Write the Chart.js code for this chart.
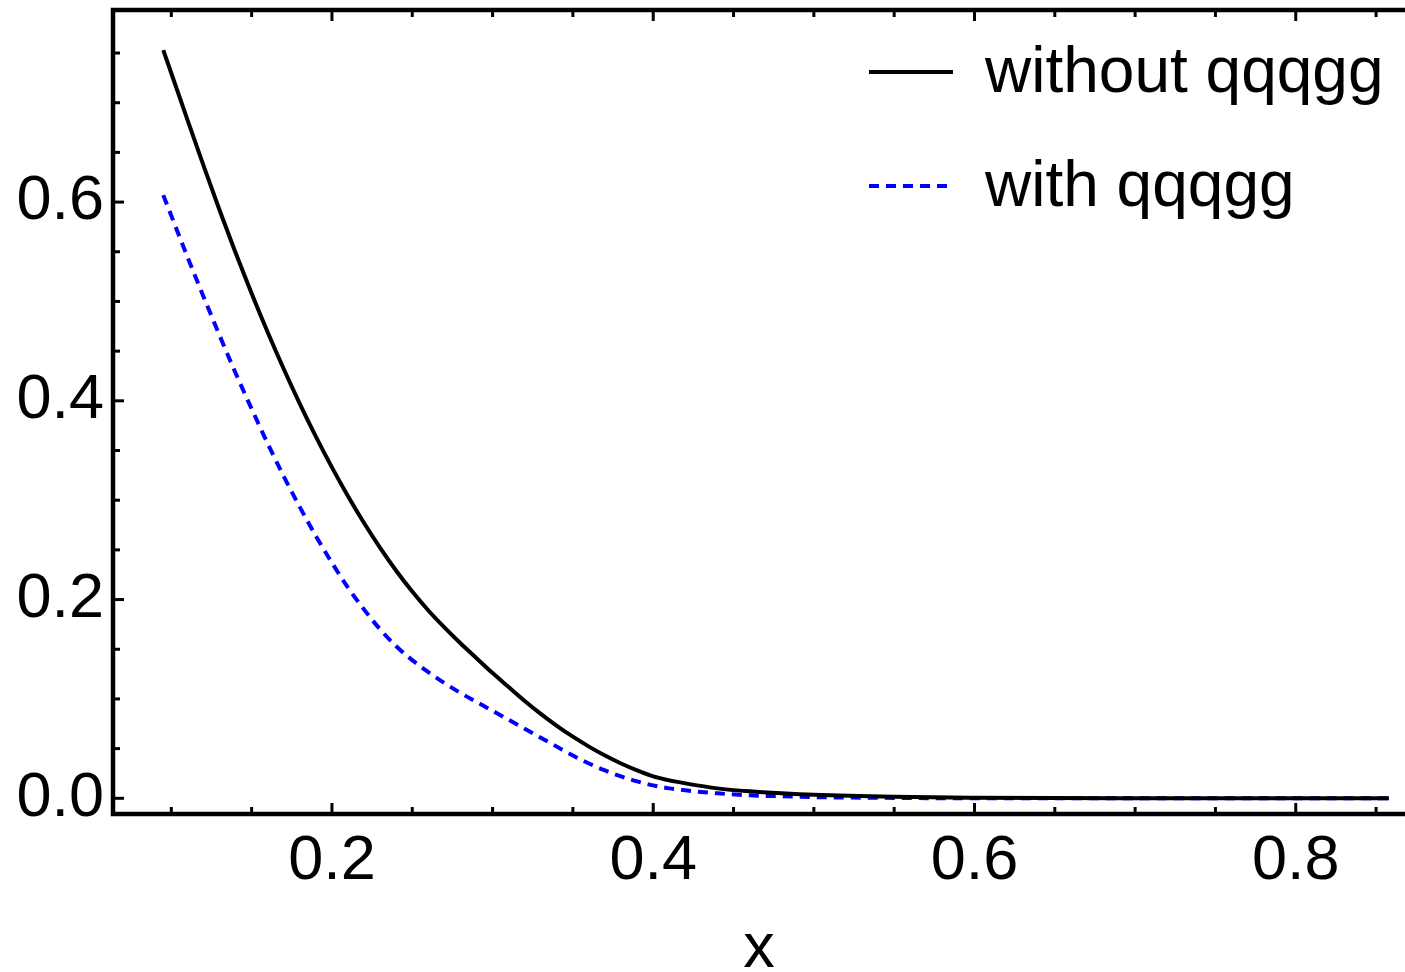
<!DOCTYPE html>
<html>
<head>
<meta charset="utf-8">
<script src="https://cdn.jsdelivr.net/npm/chart.js@4.4.1/dist/chart.umd.min.js"></script>
<style>
  html, body { margin: 0; padding: 0; background: #fff; }
  #wrap { width: 1405px; height: 972px; }
</style>
</head>
<body>
<div id="wrap"><canvas id="chart"></canvas></div>
<script>
// values
const xs = [0.095, 0.11, 0.12, 0.13, 0.14, 0.15, 0.16, 0.17, 0.18, 0.19, 0.20, 0.21, 0.22, 0.23, 0.24, 0.25,
  0.26, 0.27, 0.28, 0.29, 0.30, 0.31, 0.32, 0.33, 0.34, 0.35, 0.36, 0.37, 0.38, 0.39, 0.40,
  0.41, 0.42, 0.44, 0.46, 0.48, 0.50, 0.55, 0.60, 0.65, 0.70, 0.75, 0.80, 0.858];
const withoutQ = [0.753, 0.683, 0.637, 0.592, 0.549, 0.508, 0.469, 0.432, 0.397, 0.364, 0.333, 0.304, 0.277, 0.252, 0.229, 0.208,
  0.189, 0.172, 0.156, 0.141, 0.126, 0.112, 0.098, 0.085, 0.073, 0.062, 0.052, 0.043, 0.035, 0.028, 0.022,
  0.018, 0.015, 0.010, 0.007, 0.005, 0.0035, 0.0015, 0.0006, 0.0002, 0.0001, 0, 0, 0];
const withQ = [0.607, 0.545, 0.505, 0.466, 0.428, 0.392, 0.357, 0.324, 0.293, 0.264, 0.237, 0.212, 0.190, 0.170, 0.153, 0.139,
  0.127, 0.116, 0.106, 0.097, 0.088, 0.079, 0.070, 0.061, 0.052, 0.043, 0.035, 0.028, 0.022, 0.017, 0.013,
  0.010, 0.008, 0.005, 0.003, 0.002, 0.0012, 0.0004, 0, 0, 0, 0, 0, 0];
const labels = ['without qqqgg', 'with qqqgg'];

const xTicks = [0.2, 0.4, 0.6, 0.8];
const xMinor = [0.1, 0.15, 0.25, 0.3, 0.35, 0.45, 0.5, 0.55, 0.65, 0.7, 0.75, 0.85];
const yTicks = [0, 0.2, 0.4, 0.6];
const yMinor = [0.05, 0.1, 0.15, 0.25, 0.3, 0.35, 0.45, 0.5, 0.55, 0.65, 0.7, 0.75];

const FONT = '"Liberation Sans", Arial, sans-serif';

// frame + inward ticks
const framePlugin = {
  id: 'frame',
  afterDatasetsDraw(chart) {
    const { ctx, chartArea: a, scales: { x, y } } = chart;
    ctx.save();
    ctx.strokeStyle = '#000';
    ctx.lineCap = 'butt';
    ctx.lineWidth = 3;
    const tick = (x1, y1, x2, y2) => { ctx.beginPath(); ctx.moveTo(x1, y1); ctx.lineTo(x2, y2); ctx.stroke(); };
    xTicks.forEach(v => { const p = x.getPixelForValue(v); tick(p, a.bottom, p, a.bottom - 11); tick(p, a.top, p, a.top + 11); });
    xMinor.forEach(v => { const p = x.getPixelForValue(v); if (p < a.right) { tick(p, a.bottom, p, a.bottom - 7); tick(p, a.top, p, a.top + 7); } });
    yTicks.forEach(v => { const p = y.getPixelForValue(v); tick(a.left, p, a.left + 11, p); });
    yMinor.forEach(v => { const p = y.getPixelForValue(v); tick(a.left, p, a.left + 7, p); });
    ctx.lineWidth = 4.5;
    ctx.beginPath();
    ctx.moveTo(1405, a.top);
    ctx.lineTo(a.left, a.top);
    ctx.lineTo(a.left, a.bottom);
    ctx.lineTo(1405, a.bottom);
    ctx.stroke();
    ctx.restore();
  }
};

// legend top right, line samples like the original
const legendPlugin = {
  id: 'legendBox',
  afterDraw(chart) {
    const { ctx } = chart;
    ctx.save();
    ctx.font = '64px ' + FONT;
    ctx.textBaseline = 'middle';
    ctx.fillStyle = '#000';
    chart.data.datasets.forEach((ds, i) => {
      const yy = 72 + i * 114;
      ctx.strokeStyle = ds.borderColor;
      ctx.lineWidth = ds.borderWidth;
      ctx.setLineDash(ds.borderDash || []);
      ctx.beginPath();
      ctx.moveTo(869, yy);
      ctx.lineTo(953, yy);
      ctx.stroke();
      ctx.setLineDash([]);
      ctx.fillText(ds.label, 985, yy + 2);
    });
    ctx.restore();
  }
};

new Chart(document.getElementById('chart'), {
  type: 'line',
  data: {
    datasets: [
      { label: labels[0], data: xs.map((v, i) => ({ x: v, y: withoutQ[i] })), borderColor: '#000', borderWidth: 4, pointRadius: 0, cubicInterpolationMode: 'monotone' },
      { label: labels[1], data: xs.map((v, i) => ({ x: v, y: withQ[i] })), borderColor: '#0000ff', borderWidth: 4, borderDash: [10, 7], pointRadius: 0, cubicInterpolationMode: 'monotone' }
    ]
  },
  options: {
    responsive: true,
    maintainAspectRatio: false,
    animation: false,
    layout: { padding: { top: 10, right: 0, left: 0, bottom: 0 } },
    plugins: { legend: { display: false }, tooltip: { enabled: false } },
    scales: {
      x: {
        type: 'linear',
        min: 0.0637,
        max: 0.868,
        afterFit: s => { s.height = 158; s.paddingLeft = 0; s.paddingRight = 0; },
        afterBuildTicks: s => { s.ticks = xTicks.map(v => ({ value: v })); },
        grid: { display: false, drawTicks: false },
        border: { display: false },
        ticks: { color: '#000', font: { family: FONT, size: 63 }, padding: 10, maxRotation: 0, callback: v => v.toFixed(1) },
        title: { display: true, text: 'x', color: '#000', font: { family: FONT, size: 63, lineHeight: 0.7 }, padding: { top: 0, bottom: 0 } }
      },
      y: {
        type: 'linear',
        min: -0.0158,
        max: 0.7933,
        afterFit: s => { s.width = 113; s.paddingTop = 0; s.paddingBottom = 0; },
        afterBuildTicks: s => { s.ticks = yTicks.map(v => ({ value: v })); },
        grid: { display: false, drawTicks: false },
        border: { display: false },
        ticks: { color: '#000', font: { family: FONT, size: 63 }, padding: 9, callback: v => v.toFixed(1) }
      }
    }
  },
  plugins: [framePlugin, legendPlugin]
});
</script>
</body>
</html>
